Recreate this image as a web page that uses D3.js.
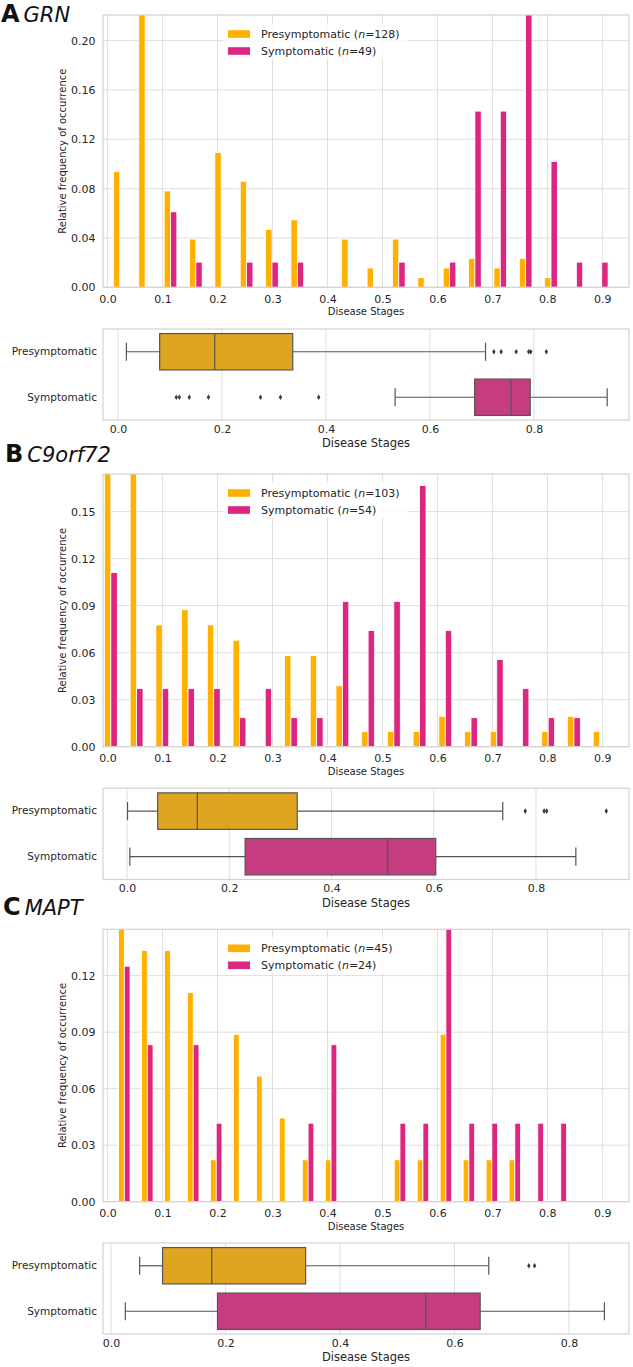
<!DOCTYPE html>
<html><head><meta charset="utf-8">
<script src="https://cdn.jsdelivr.net/npm/d3@7"></script>
<style>
body{margin:0;background:#fff}
svg{display:block;font-family:"DejaVu Sans",sans-serif}
</style>
</head><body><svg id="c" width="633" height="1367"></svg>
<script>
// ---------- DATA ----------
const seriesNames = ["Presymptomatic", "Symptomatic"];
const panelLetters = ["A", "B", "C"];
const geneNames = ["GRN", "C9orf72", "MAPT"];
const sampleSizesPre = [128, 103, 45];
const sampleSizesSym = [49, 54, 24];

// histogram bin ranges (20 equal bins each) and counts per bin
const histBinRanges = [[-0.001, 0.922], [-0.0175, 0.9185], [0.0095, 0.8453]];
const grnPreCounts  = [12, 39, 10, 5, 14, 11, 6, 7, 0, 5, 2, 5, 1, 2, 3, 2, 3, 1, 0, 0];
const grnSymCounts  = [0, 0, 3, 1, 0, 1, 1, 1, 0, 0, 0, 1, 0, 1, 7, 7, 19, 5, 1, 1];
const c9PreCounts   = [22, 22, 8, 9, 8, 7, 0, 6, 6, 4, 1, 1, 1, 2, 1, 1, 0, 1, 2, 1];
const c9SymCounts   = [6, 2, 2, 2, 2, 1, 2, 1, 1, 5, 4, 5, 9, 4, 1, 3, 2, 1, 1, 0];
const maptPreCounts = [7, 6, 6, 5, 1, 4, 3, 2, 1, 1, 0, 0, 1, 1, 4, 1, 1, 1, 0, 0];
const maptSymCounts = [3, 2, 0, 2, 1, 0, 0, 0, 1, 2, 0, 0, 1, 1, 6, 1, 1, 1, 1, 1];

const histXDomain = [-0.0084, 0.9485];
const histXTicks = [0, 0.1, 0.2, 0.3, 0.4, 0.5, 0.6, 0.7, 0.8, 0.9];
const histYMax = [0.2208, 0.174, 0.1446];
const histYTicksGRN = [0, 0.04, 0.08, 0.12, 0.16, 0.20];
const histYTicksC9 = [0, 0.03, 0.06, 0.09, 0.12, 0.15];
const histYTicksMAPT = [0, 0.03, 0.06, 0.09, 0.12];

// boxplot stats: [whiskerLow, Q1, median, Q3, whiskerHigh]
const grnBoxPre  = [0.016, 0.080, 0.186, 0.336, 0.707];
const grnOutPre  = [0.723, 0.737, 0.766, 0.790, 0.794, 0.824];
const grnBoxSym  = [0.533, 0.686, 0.756, 0.793, 0.941];
const grnOutSym  = [0.112, 0.118, 0.137, 0.174, 0.274, 0.3125, 0.386];
const c9BoxPre   = [0.001, 0.060, 0.1375, 0.333, 0.735];
const c9OutPre   = [0.779, 0.816, 0.821, 0.9375];
const c9BoxSym   = [0.0055, 0.231, 0.510, 0.604, 0.878];
const c9OutSym   = [];
const maptBoxPre = [0.050, 0.090, 0.176, 0.340, 0.660];
const maptOutPre = [0.730, 0.740];
const maptBoxSym = [0.025, 0.186, 0.550, 0.645, 0.862];
const maptOutSym = [];
const boxXDomains = [[-0.029, 0.983], [-0.047, 0.982], [-0.014, 0.905]];
const boxXTicks = [0, 0.2, 0.4, 0.6, 0.8];

// ---------- STYLE / LAYOUT ----------
const preColor = "#FFB000", symColor = "#DC267F";
const boxPreColor = "#DFA420", boxSymColor = "#C53D7F";
const lineColor = "#555555", gridColor = "#dedede", frameColor = "#d2d2d2", textColor = "#262626";
const L = {left: 103, right: 629};
const layout = [
  {title: 22,  hTop: 15,    hBot: 287.3,  bTop: 329,   bBot: 420,   lx: 1},
  {title: 462, hTop: 474,   hBot: 746.7,  bTop: 788.3, bBot: 879.5, lx: 5},
  {title: 915, hTop: 929.3, hBot: 1201.7, bTop: 1243,  bBot: 1334,  lx: 3}
];

const panels = [
  {pre: grnPreCounts, sym: grnSymCounts, yTicks: histYTicksGRN, yFmt: ".2f",
   boxes: [[grnBoxPre, grnOutPre], [grnBoxSym, grnOutSym]]},
  {pre: c9PreCounts, sym: c9SymCounts, yTicks: histYTicksC9, yFmt: ".2f",
   boxes: [[c9BoxPre, c9OutPre], [c9BoxSym, c9OutSym]]},
  {pre: maptPreCounts, sym: maptSymCounts, yTicks: histYTicksMAPT, yFmt: ".2f",
   boxes: [[maptBoxPre, maptOutPre], [maptBoxSym, maptOutSym]]}
];

const svg = d3.select("#c");
const defs = svg.append("defs");

panels.forEach((p, i) => {
  const lay = layout[i];
  const g = svg.append("g");

  // ---- title ----
  const t = g.append("text").attr("x", lay.lx).attr("y", lay.title).attr("fill", "#111");
  t.append("tspan").attr("font-weight", "bold").attr("font-size", 24).text(panelLetters[i]);
  t.append("tspan").attr("font-style", "italic").attr("font-size", 21).attr("dx", 4).text(geneNames[i]);

  // ---- histogram ----
  const x = d3.scaleLinear().domain(histXDomain).range([L.left, L.right]);
  const y = d3.scaleLinear().domain([0, histYMax[i]]).range([lay.hBot, lay.hTop]);

  g.append("g").selectAll("line").data(histXTicks).join("line")
    .attr("x1", d => x(d)).attr("x2", d => x(d)).attr("y1", lay.hTop).attr("y2", lay.hBot)
    .attr("stroke", gridColor).attr("stroke-width", 1);
  g.append("g").selectAll("line").data(p.yTicks).join("line")
    .attr("x1", L.left).attr("x2", L.right).attr("y1", d => y(d)).attr("y2", d => y(d))
    .attr("stroke", gridColor).attr("stroke-width", 1);

  const clipId = "clip" + i;
  defs.append("clipPath").attr("id", clipId).append("rect")
    .attr("x", L.left).attr("y", lay.hTop).attr("width", L.right - L.left).attr("height", lay.hBot - lay.hTop);

  const [lo, hi] = histBinRanges[i];
  const nb = p.pre.length;
  const bw = (hi - lo) / nb;
  const bars = [];
  p.pre.forEach((c, k) => { if (c > 0) bars.push({x0: lo + (k + 0.25) * bw, x1: lo + (k + 0.5) * bw, v: c / sampleSizesPre[i], col: preColor}); });
  p.sym.forEach((c, k) => { if (c > 0) bars.push({x0: lo + (k + 0.5) * bw, x1: lo + (k + 0.75) * bw, v: c / sampleSizesSym[i], col: symColor}); });
  g.append("g").attr("clip-path", `url(#${clipId})`).selectAll("rect").data(bars).join("rect")
    .attr("x", d => x(d.x0)).attr("width", d => x(d.x1) - x(d.x0))
    .attr("y", d => y(d.v)).attr("height", d => y(0) - y(d.v))
    .attr("fill", d => d.col).attr("stroke", "#fff").attr("stroke-width", 0.8);

  g.append("rect").attr("x", L.left).attr("y", lay.hTop).attr("width", L.right - L.left)
    .attr("height", lay.hBot - lay.hTop).attr("fill", "none").attr("stroke", frameColor).attr("stroke-width", 1.2);

  const xa = g.append("g").attr("transform", `translate(0,${lay.hBot})`)
    .call(d3.axisBottom(x).tickValues(histXTicks).tickFormat(d3.format(".1f")).tickSize(0).tickPadding(7.5));
  const ya = g.append("g").attr("transform", `translate(${L.left},0)`)
    .call(d3.axisLeft(y).tickValues(p.yTicks).tickFormat(d3.format(p.yFmt)).tickSize(0).tickPadding(7.5));
  [xa, ya].forEach(a => {
    a.select(".domain").remove();
    a.selectAll("text").attr("font-size", 11).attr("fill", textColor).attr("font-family", "DejaVu Sans");
  });

  g.append("text").attr("x", (L.left + L.right) / 2).attr("y", lay.hBot + 28)
    .attr("text-anchor", "middle").attr("font-size", 10).attr("fill", textColor).text("Disease Stages");
  g.append("text").attr("transform", `translate(65.5,${(lay.hTop + lay.hBot) / 2}) rotate(-90)`)
    .attr("text-anchor", "middle").attr("font-size", 10).attr("fill", textColor).text("Relative frequency of occurrence");

  // legend
  const lg = g.append("g").attr("transform", `translate(228,${lay.hTop + 19})`);
  const legendN = [sampleSizesPre[i], sampleSizesSym[i]];
  lg.append("rect").attr("x", -5).attr("y", -11).attr("width", 185).attr("height", 36)
    .attr("fill", "#fff").attr("opacity", 0.8);
  seriesNames.forEach((s, j) => {
    const row = lg.append("g").attr("transform", `translate(0,${j * 17})`);
    row.append("rect").attr("x", 0).attr("y", -3.8).attr("width", 22).attr("height", 7.6)
      .attr("fill", j === 0 ? preColor : symColor);
    const tx = row.append("text").attr("x", 33).attr("y", 4).attr("font-size", 11).attr("fill", textColor);
    tx.append("tspan").text(s + " (");
    tx.append("tspan").attr("font-style", "italic").text("n");
    tx.append("tspan").text("=" + legendN[j] + ")");
  });

  // ---- boxplot ----
  const bx = d3.scaleLinear().domain(boxXDomains[i]).range([L.left, L.right]);
  const by = d3.scaleBand().domain(seriesNames).range([lay.bTop, lay.bBot]);
  const bg = g.append("g");
  bg.selectAll("line.grid").data(boxXTicks).join("line").attr("class", "grid")
    .attr("x1", d => bx(d)).attr("x2", d => bx(d)).attr("y1", lay.bTop).attr("y2", lay.bBot)
    .attr("stroke", gridColor).attr("stroke-width", 1);

  p.boxes.forEach(([st, outs], j) => {
    const s = seriesNames[j];
    const cy = by(s) + by.bandwidth() / 2;
    const h = by.bandwidth() * 0.8;
    const capH = h * 0.5;
    const fill = j === 0 ? boxPreColor : boxSymColor;
    const bb = bg.append("g");
    bb.append("line").attr("x1", bx(st[0])).attr("x2", bx(st[1])).attr("y1", cy).attr("y2", cy);
    bb.append("line").attr("x1", bx(st[3])).attr("x2", bx(st[4])).attr("y1", cy).attr("y2", cy);
    bb.append("line").attr("x1", bx(st[0])).attr("x2", bx(st[0])).attr("y1", cy - capH / 2).attr("y2", cy + capH / 2);
    bb.append("line").attr("x1", bx(st[4])).attr("x2", bx(st[4])).attr("y1", cy - capH / 2).attr("y2", cy + capH / 2);
    bb.append("rect").attr("x", bx(st[1])).attr("width", bx(st[3]) - bx(st[1]))
      .attr("y", cy - h / 2).attr("height", h).attr("fill", fill);
    bb.append("line").attr("x1", bx(st[2])).attr("x2", bx(st[2])).attr("y1", cy - h / 2).attr("y2", cy + h / 2);
    bb.selectAll("line,rect").attr("stroke", lineColor).attr("stroke-width", 1.2);
    bb.selectAll("path").data(outs).join("path")
      .attr("d", "M0,-2.8L1.7,0L0,2.8L-1.7,0Z")
      .attr("transform", d => `translate(${bx(d)},${cy})`)
      .attr("fill", "#3a3a3a");
  });

  bg.append("rect").attr("x", L.left).attr("y", lay.bTop).attr("width", L.right - L.left)
    .attr("height", lay.bBot - lay.bTop).attr("fill", "none").attr("stroke", frameColor).attr("stroke-width", 1.2);

  const bxa = bg.append("g").attr("transform", `translate(0,${lay.bBot})`)
    .call(d3.axisBottom(bx).tickValues(boxXTicks).tickFormat(d3.format(".1f")).tickSize(0).tickPadding(5));
  const bya = bg.append("g").attr("transform", `translate(${L.left},0)`)
    .call(d3.axisLeft(by).tickSize(0).tickPadding(6));
  [bxa, bya].forEach(a => {
    a.select(".domain").remove();
    a.selectAll("text").attr("fill", textColor).attr("font-family", "DejaVu Sans");
  });
  bxa.selectAll("text").attr("font-size", 11);
  bya.selectAll("text").attr("font-size", 10.5);
  bg.append("text").attr("x", (L.left + L.right) / 2).attr("y", lay.bBot + 27)
    .attr("text-anchor", "middle").attr("font-size", 11.5).attr("fill", textColor).text("Disease Stages");
});
</script></body></html>
